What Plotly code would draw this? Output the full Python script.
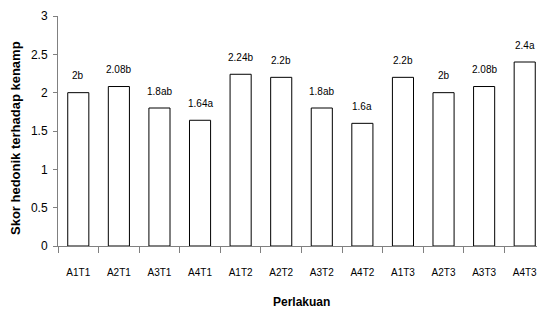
import plotly.graph_objects as go

categories = ["A1T1", "A2T1", "A3T1", "A4T1", "A1T2", "A2T2", "A3T2", "A4T2",
              "A1T3", "A2T3", "A3T3", "A4T3"]
values = [2.0, 2.08, 1.8, 1.64, 2.24, 2.2, 1.8, 1.6, 2.2, 2.0, 2.08, 2.4]
labels = ["2b", "2.08b", "1.8ab", "1.64a", "2.24b", "2.2b", "1.8ab", "1.6a",
          "2.2b", "2b", "2.08b", "2.4a"]
y_title = "Skor hedonik terhadap kenamp"
x_title = "Perlakuan"

# page body has an 8px margin; figure is sized so it fits in the 545x311 window
OFF = 8
W, H = 545 - OFF, 311 - OFF
L, R, T, B = 58 - OFF, 0, 16 - OFF, 65
pw, ph = W - L - R, H - T - B

font = "Liberation Sans, Arial, sans-serif"

fig = go.Figure()
fig.add_trace(go.Bar(
    x=categories, y=values,
    marker=dict(color="white", line=dict(color="black", width=1)),
    width=0.52,
))

annotations = []
for c, v, t in zip(categories, values, labels):
    annotations.append(dict(x=c, y=v, xref="x", yref="y", text=t, showarrow=False,
                            yanchor="middle", yshift=17,
                            font=dict(family=font, size=10, color="black")))

annotations.append(dict(x=(15 - 58) / pw, y=(246 - 237) / ph, xref="paper", yref="paper",
                        text=y_title, textangle=-90, showarrow=False,
                        xanchor="center", yanchor="bottom",
                        font=dict(family=font, size=13, color="black", weight="bold")))
annotations.append(dict(x=0.5, y=(246 - 302) / ph, xref="paper", yref="paper",
                        text=x_title, showarrow=False, xanchor="center", yanchor="middle",
                        font=dict(family=font, size=12, color="black", weight="bold")))

fig.update_layout(
    width=W, height=H,
    margin=dict(l=L, r=R, t=T, b=B, pad=0),
    plot_bgcolor="white", paper_bgcolor="white",
    showlegend=False,
    annotations=annotations,
    xaxis=dict(type="category", showgrid=False, showline=True, linecolor="#808080",
               linewidth=1, ticks="outside", tickson="boundaries", ticklen=6,
               tickcolor="#808080", tickfont=dict(family=font, size=10, color="black"),
               ticklabelstandoff=17, zeroline=False),
    yaxis=dict(range=[0, 3], dtick=0.5, showgrid=False, showline=True, linecolor="#808080",
               linewidth=1, ticks="outside", ticklen=4, tickcolor="#808080",
               tickfont=dict(family=font, size=12, color="black"), zeroline=False,
               ticklabelstandoff=3),
)

fig.write_html("out.html")
